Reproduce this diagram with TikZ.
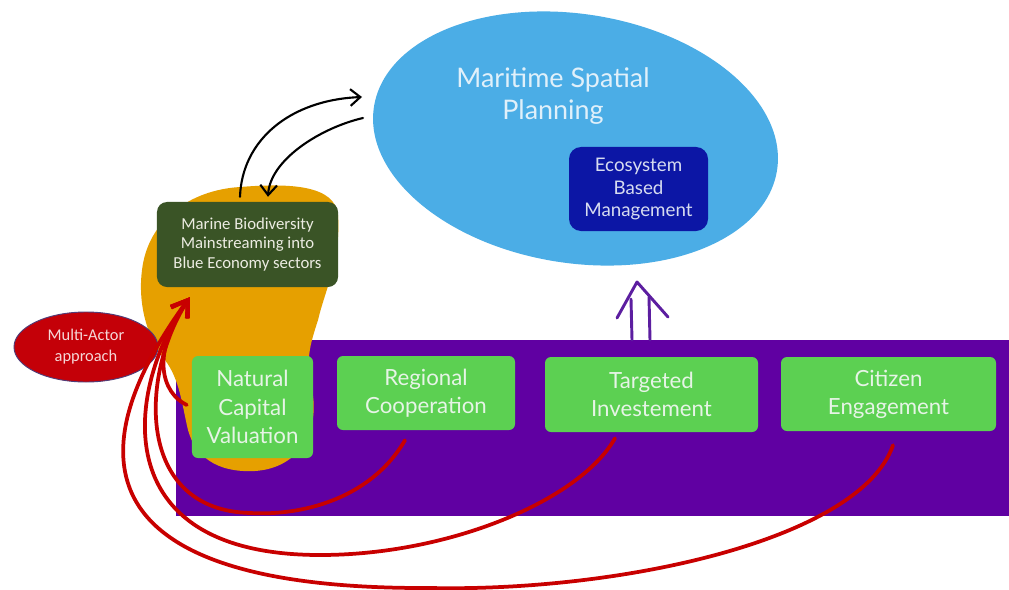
\documentclass[tikz,border=0pt]{standalone}
\usepackage{fontspec}
\setmainfont{Lato}
\newfontfamily\calfont{Carlito}
\usetikzlibrary{arrows.meta,calc,shapes.geometric}
\definecolor{skyblue}{RGB}{75,173,230}
\definecolor{mspText}{RGB}{224,240,250}
\definecolor{ebmblue}{RGB}{12,22,165}
\definecolor{ebmText}{RGB}{215,220,240}
\definecolor{basepurple}{RGB}{96,0,162}
\definecolor{blobor}{RGB}{230,160,0}
\definecolor{leafgreen}{RGB}{92,208,82}
\definecolor{leafText}{RGB}{230,244,230}
\definecolor{mossgreen}{RGB}{58,84,38}
\definecolor{mossText}{RGB}{236,236,226}
\definecolor{actorred}{RGB}{196,0,8}
\definecolor{actorrim}{RGB}{80,60,120}
\definecolor{actorText}{RGB}{245,215,215}
\definecolor{linkred}{RGB}{200,0,0}
\definecolor{arrowpurple}{RGB}{92,30,160}
\begin{document}
\begin{tikzpicture}[x=0.03cm,y=-0.03cm,
  greenbox/.style={fill=leafgreen, rounded corners=0.18cm, text=leafText, align=center,
    font=\fontsize{19}{24}\selectfont, inner sep=0pt},
  mossbox/.style={fill=mossgreen, rounded corners=0.3cm, text=mossText, align=center,
    font=\calfont\fontsize{14.3}{17}\selectfont, inner sep=0pt},
  ebmbox/.style={fill=ebmblue, rounded corners=0.36cm, text=ebmText, align=center,
    font=\fontsize{16}{19.5}\selectfont, inner sep=0pt},
  redlink/.style={draw=linkred, line width=3.2pt, line cap=round,
    -{Straight Barb[length=4.6mm,width=6mm,line width=3.2pt]}},
  blacklink/.style={draw=black, line width=1.8pt, line cap=round,
    -{Straight Barb[length=3mm,width=5mm,line width=1.8pt]}},
  hollowarrow/.style={draw=arrowpurple, line width=2.5pt, line cap=round, line join=round}
]
\useasboundingbox (0,0) rectangle (1009,590);
\fill[white] (0,0) rectangle (1009,590);

% Maritime Spatial Planning ellipse
\node[ellipse, fill=skyblue, minimum width=12.24cm, minimum height=7.47cm, inner sep=0pt,
  rotate=-9] (msp) at (575.5,138.5) {};
\node[text=mspText, align=center, font=\fontsize{23}{27}\selectfont] (msptext) at (553,96)
  {Maritime Spatial\\Planning};
\node[ebmbox, minimum width=4.17cm, minimum height=2.52cm] (ebm) at (638.5,189)
  {Ecosystem\\Based\\Management};

% purple base
\node[rectangle, fill=basepurple, minimum width=24.99cm, minimum height=5.28cm, inner sep=0pt]
  (base) at (592.5,428) {};

% orange blob
\fill[blobor] (240,187) .. controls (290,183) and (335,185) .. (338,215)
  .. controls (341,260) and (325,290) .. (318,320)
  .. controls (310,345) and (305,360) .. (312,390)
  .. controls (320,430) and (300,468) .. (255,471)
  .. controls (215,473) and (195,455) .. (188,430)
  .. controls (182,405) and (180,380) .. (165,360)
  .. controls (145,335) and (138,300) .. (142,270)
  .. controls (148,220) and (190,190) .. (240,187) -- cycle;

% hollow purple arrow
\coordinate (hb) at (641,340);
\draw[hollowarrow] ($(hb)+(-9,0)$) -- ($(hb)+(-10,-41)$);
\draw[hollowarrow] ($(hb)+(9,0)$) -- ($(hb)+(8,-43)$);
\draw[hollowarrow] ($(hb)+(-24,-22)$) -- ($(hb)+(-4,-58)$) -- ($(hb)+(27,-23)$);

% green boxes
\node[greenbox, minimum width=3.63cm, minimum height=3.06cm] (ncv) at (252.5,407)
  {Natural\\Capital\\Valuation};
\node[greenbox, minimum width=5.34cm, minimum height=2.22cm] (rc) at (426,393)
  {Regional\\Cooperation};
\node[greenbox, minimum width=6.39cm, minimum height=2.25cm] (ti) at (651.5,394.5)
  {Targeted\\Investement};
\node[greenbox, minimum width=6.45cm, minimum height=2.22cm] (ce) at (888.5,394)
  {Citizen\\Engagement};

% marine biodiversity box
\node[mossbox, minimum width=5.43cm, minimum height=2.55cm] (mbm) at (247.5,244.5)
  {Marine Biodiversity\\Mainstreaming into\\Blue Economy sectors};

% multi-actor ellipse
\node[ellipse, fill=actorred, draw=actorrim, line width=0.8pt, minimum width=4.32cm,
  minimum height=2.1cm, inner sep=0pt, text=actorText, align=center,
  font=\calfont\fontsize{14}{18}\selectfont] (actor) at (86,347) {Multi-Actor\\approach};

% red links
\coordinate (tip) at ($(mbm.south west)+(33,10)$);
\draw[redlink] ($(ncv.west)+(-5,-2)$) .. controls (162,393) and (150,355) .. (tip);
\draw[redlink] ($(rc.south)+(-21,10)$) .. controls (370,500) and (300,516) .. (250,513)
  .. controls (135,510) and (140,375) .. (tip);
\draw[redlink] ($(ti.south)+(-36.5,6)$) .. controls (580,500) and (450,555) .. (320,555)
  .. controls (100,555) and (128,385) .. (tip);
\draw[redlink] ($(ce.south)+(4.5,14)$) .. controls (860,540) and (620,592) .. (430,588)
  .. controls (20,590) and (115,400) .. (tip);

% black links
\draw[blacklink] ($(mbm.north)+(-7.5,-5)$) .. controls (242,140) and (290,100) .. (362,97);
\draw[blacklink] (363,118) .. controls (320,128) and (270,160) .. ($(mbm.north)+(20.5,-5)$);
\end{tikzpicture}
\end{document}
